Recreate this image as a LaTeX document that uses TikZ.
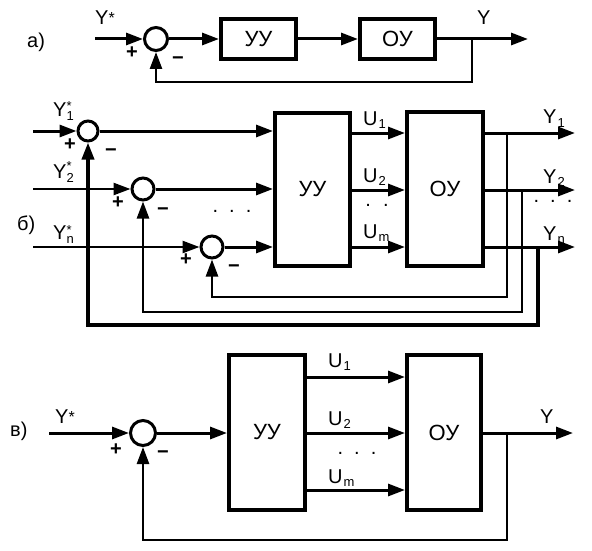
\documentclass[tikz,border=0pt]{standalone}
\usepackage{fontspec}
\setmainfont{Liberation Sans}
\usetikzlibrary{arrows.meta}
\newcommand{\subsz}{\fontsize{13}{13}\selectfont}
\newcommand{\Ysub}[1]{Y\raisebox{-4pt}{\subsz\shortstack[l]{*\\[-1pt]#1}}}
\newcommand{\Ystar}{Y\raisebox{1pt}{\fontsize{16}{16}\selectfont *}}
\newcommand{\Uix}[1]{U\kern1pt\raisebox{-3pt}{\subsz #1}}
\newcommand{\Yix}[1]{Y\kern1pt\raisebox{-3pt}{\subsz #1}}
\begin{document}
\begin{tikzpicture}[x=1pt,y=-1pt,
  every node/.style={font=\fontsize{20}{24}\selectfont, inner sep=0pt},
  sig/.style={line width=3pt,-{Triangle[length=17pt,width=12pt]}},
  sigthin/.style={line width=2.5pt,-{Triangle[length=17pt,width=12pt]}},
  fb/.style={line width=2.5pt,-{Triangle[length=17pt,width=12pt]}},
  fbthick/.style={line width=3.5pt,-{Triangle[length=17pt,width=12pt]}},
  blk/.style={draw, line width=4pt, minimum width=75pt, font=\fontsize{22}{26}\selectfont},
  sumc/.style={draw, circle, line width=3pt},
  lbl/.style={anchor=base west},
  sgn/.style={font=\fontsize{20}{22}\selectfont\bfseries}]
\useasboundingbox (0,0) rectangle (592,551);

% ---------- panel a ----------
\node[lbl] (la) at (27,48) {а)};
\coordinate (ain) at (95,39);
\node[sumc, minimum size=23pt] (sa) at (156,39) {};
\node[blk, minimum height=40pt] (uua) at (258.5,39) {УУ};
\node[blk, minimum height=40pt] (oua) at (397.5,39) {ОУ};
\coordinate (aout) at (528,39);
\coordinate (atap) at (472,39);
\coordinate (afb) at (156,82);
\draw[sig] (ain) -- (sa);
\draw[sig] (sa) -- (uua);
\draw[sig] (uua) -- (oua);
\draw[sig] (oua) -- (aout);
\draw[fb] (atap) |- (afb) -- (sa.south);
\node[lbl] (tya) at (95,25) {\Ystar};
\node[lbl] (tyo) at (477,25) {Y};
\node[sgn] (pa) at (132,53) {+};
\node[sgn] (ma) at (178,61) {−};

% ---------- panel b ----------
\node[lbl] (lb) at (17,230) {б)};
\coordinate (b1in) at (33,131);
\coordinate (b2in) at (33,189);
\coordinate (b3in) at (33,247);
\node[sumc, minimum size=20pt] (s1) at (88,131) {};
\node[sumc, minimum size=22pt] (s2) at (143,189) {};
\node[sumc, minimum size=22pt] (s3) at (212,247) {};
\node[blk, minimum height=153pt] (uub) at (312.5,189.5) {УУ};
\node[blk, minimum width=76pt, minimum height=154pt] (oub) at (445,189) {ОУ};
\draw[sig] (b1in) -- (s1);
\draw[sigthin] (b2in) -- (s2);
\draw[sigthin] (b3in) -- (s3);
\draw[sig] (s1) -- (s1 -| uub.west);
\draw[sig] (s2) -- (s2 -| uub.west);
\draw[sig] (s3) -- (s3 -| uub.west);
\coordinate (bu1) at (380,133);
\coordinate (bu2) at (380,190);
\coordinate (bu3) at (380,247);
\draw[sig] (uub.east |- bu1) -- (oub.west |- bu1);
\draw[sig] (uub.east |- bu2) -- (oub.west |- bu2);
\draw[sig] (uub.east |- bu3) -- (oub.west |- bu3);
\coordinate (by1) at (575,133);
\coordinate (by2) at (575,190);
\coordinate (by3) at (575,247);
\draw[sig] (oub.east |- by1) -- (by1);
\draw[sig] (oub.east |- by2) -- (by2);
\draw[sig] (oub.east |- by3) -- (by3);
\coordinate (bt1) at (507,133);
\coordinate (bt2) at (522,190);
\coordinate (bt3) at (538,247);
\coordinate (bf1) at (212,297);
\coordinate (bf2) at (143,312);
\coordinate (bf3) at (88,325);
\draw[fb] (bt1) |- (bf1) -- (s3.south);
\draw[fb] (bt2) |- (bf2) -- (s2.south);
\draw[fbthick] (bt3) |- (bf3) -- (s1.south);
\node[lbl] (ty1s) at (53,117) {\Ysub{1}};
\node[lbl] (ty2s) at (53,178) {\Ysub{2}};
\node[lbl] (tyns) at (53,239) {\Ysub{n}};
\node[sgn] (p1) at (70,145) {+};
\node[sgn] (m1) at (111,153) {−};
\node[sgn] (p2) at (118,203) {+};
\node[sgn] (m2) at (163,212) {−};
\node[sgn] (p3) at (186,260) {+};
\node[sgn] (m3) at (234,269) {−};
\node (dl) at (232,211) {.\hspace{11pt}.\hspace{11pt}.};
\node (du) at (377,205) {.\hspace{12pt}.};
\node (dr) at (553,201) {.\hspace{11pt}.\hspace{11pt}.};
\node[lbl] (tu1) at (363,125) {\Uix{1}};
\node[lbl] (tu2) at (363,182) {\Uix{2}};
\node[lbl] (tum) at (363,238) {\Uix{m}};
\node[lbl] (ty1) at (543,124) {\Yix{1}};
\node[lbl] (ty2) at (543,183) {\Yix{2}};
\node[lbl] (tyn) at (543,240) {\Yix{n}};

% ---------- panel v ----------
\node[lbl] (lv) at (10,436) {в)};
\coordinate (cin) at (49,433);
\node[sumc, minimum size=25pt] (sc) at (143,433) {};
\node[blk, minimum width=76pt, minimum height=155pt] (uuc) at (267,432.5) {УУ};
\node[blk, minimum width=74pt, minimum height=155pt] (ouc) at (444,432.5) {ОУ};
\draw[sig] (cin) -- (sc);
\draw[sig] (sc) -- (sc -| uuc.west);
\coordinate (cu1) at (350,377);
\coordinate (cu2) at (350,433);
\coordinate (cu3) at (350,490);
\draw[sig] (uuc.east |- cu1) -- (ouc.west |- cu1);
\draw[sig] (uuc.east |- cu2) -- (ouc.west |- cu2);
\draw[sig] (uuc.east |- cu3) -- (ouc.west |- cu3);
\coordinate (cout) at (573,433);
\coordinate (ctap) at (507,433);
\coordinate (cfb) at (143,540);
\draw[sig] (ouc.east |- cout) -- (cout);
\draw[fb] (ctap) |- (cfb) -- (sc.south);
\node[lbl] (tyc) at (55,423) {\Ystar};
\node[lbl] (tyco) at (540,423) {Y};
\node[sgn] (pc) at (116,450) {+};
\node[sgn] (mc) at (163,455) {−};
\node (dc) at (357,453) {.\hspace{11pt}.\hspace{11pt}.};
\node[lbl] (tcu1) at (328,367) {\Uix{1}};
\node[lbl] (tcu2) at (328,425) {\Uix{2}};
\node[lbl] (tcum) at (328,483) {\Uix{m}};
\end{tikzpicture}
\end{document}
